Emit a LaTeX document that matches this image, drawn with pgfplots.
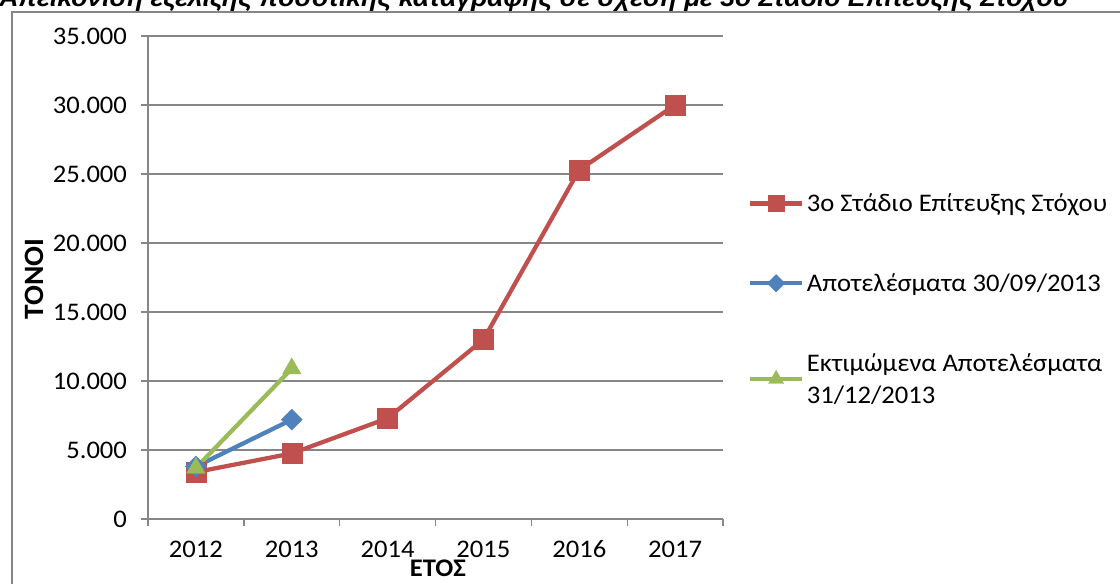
\documentclass[border=0pt]{standalone}
\usepackage{pgfplots}
\pgfplotsset{compat=1.18}
\usepackage{fontspec}
\setmainfont[FakeStretch=1.05]{Carlito}
\newfontfamily\titlefont{Liberation Sans}
\definecolor{cred}{HTML}{C0504D}
\definecolor{cblue}{HTML}{4F81BD}
\definecolor{cgreen}{HTML}{9BBB59}
\definecolor{gridc}{HTML}{868686}
\begin{document}
\begin{tikzpicture}[x=0.75pt,y=0.75pt]
\useasboundingbox (0,0) rectangle (1120,583);
\fill[white] (0,0) rectangle (1120,583);
% title (cut at the top of the picture)
\node[anchor=base west, inner sep=0pt] at (-1,576) {\resizebox{801.75pt}{\height}{\titlefont\fontsize{19}{22}\selectfont\bfseries\itshape Απεικόνιση εξέλιξης ποσοτικής καταγραφής σε σχέση με 3ο Στάδιο Επίτευξης Στόχου}};
% chart frame
\draw[gridc, line width=1.5pt] (12,-20) -- (12,571) -- (1140,571);
\begin{axis}[
  at={(111pt,48pt)}, anchor=south west,
  scale only axis, width=431.25pt, height=362.25pt,
  xmin=-0.5, xmax=5.5, ymin=0, ymax=35000,
  xtick={0,1,2,3,4,5},
  xticklabels={2012,2013,2014,2015,2016,2017},
  minor xtick={-0.5,0.5,1.5,2.5,3.5,4.5,5.5},
  ytick={0,5000,10000,15000,20000,25000,30000,35000},
  scaled y ticks=false,
  /pgf/number format/fixed,
  /pgf/number format/1000 sep={.},
  /pgf/number format/assume math mode=true,
  yticklabel style={xshift=-7pt},
  xticklabel style={yshift=-7.5pt},
  axis x line*=bottom, axis y line*=left,
  axis line style={gridc, line width=1.1pt, -},
  ymajorgrids, grid style={gridc, line width=1.1pt},
  tick align=outside,
  major tick length=5.25pt, minor tick length=5.25pt,
  every tick/.style={gridc, line width=1pt},
  major x tick style={draw=none},
  tick label style={font=\fontsize{19}{23}\selectfont, text=black},
  xlabel={\bfseries ΕΤΟΣ},
  ylabel={\bfseries ΤΟΝΟΙ},
  every axis x label/.style={at={(axis description cs:0.504,-0.102)}, anchor=center, font=\fontsize{19}{23}\selectfont},
  every axis y label/.style={at={(axis description cs:-0.198,0.497)}, rotate=90, anchor=center, font=\fontsize{21}{25}\selectfont},
  legend style={draw=none, fill=none, at={(axis description cs:1.043,0.68)}, anchor=north west,
    font=\fontsize{19}{24}\selectfont, cells={anchor=west, align=left}, row sep=41pt, inner sep=0pt},
  legend cell align=left,
  legend image code/.code={\draw[#1, every mark/.append style={scale=0.82}, mark repeat=2, mark phase=2] plot coordinates {(0pt,0pt) (19.5pt,0pt) (39pt,0pt)};},
]
\addplot[color=cred, line width=3.2pt, mark=square*, mark size=7.5pt, mark options={solid, fill=cred, draw=cred, line width=0.3pt}]
  coordinates {(0,3400) (1,4750) (2,7300) (3,13000) (4,25300) (5,30000)};
\addlegendentry{3ο Στάδιο Επίτευξης Στόχου}
\addplot[color=cblue, line width=3.2pt, mark=square*, mark size=5.6pt, mark options={solid, rotate=45, fill=cblue, draw=cblue, line width=0.3pt}]
  coordinates {(0,3800) (1,7200)};
\addlegendentry{Αποτελέσματα 30/09/2013}
\addplot[color=cgreen, line width=3.2pt, mark=triangle*, mark size=8pt, mark options={solid, fill=cgreen, draw=cgreen, line width=0.3pt}]
  coordinates {(0,3700) (1,10900)};
\addlegendentry{Εκτιμώμενα Αποτελέσματα\\31/12/2013}
\end{axis}
\end{tikzpicture}
\end{document}
